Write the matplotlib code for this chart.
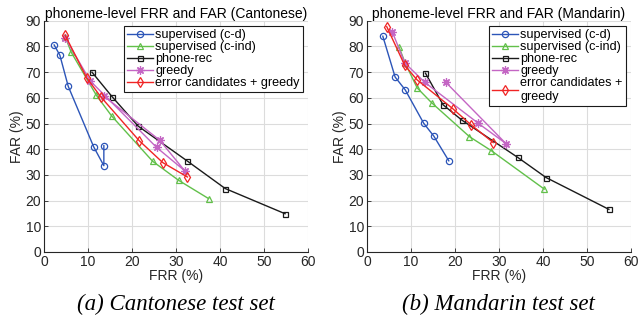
import matplotlib
matplotlib.use("Agg")
import matplotlib.pyplot as plt

# Cantonese test set (FRR %, FAR %)
can_cd_frr = [2.3, 3.6, 5.5, 11.3, 13.6, 13.6]
can_cd_far = [80.6, 76.6, 64.5, 40.9, 33.6, 41.4]
can_ci_frr = [4.8, 6.2, 11.9, 15.4, 24.7, 30.6, 37.4]
can_ci_far = [83.8, 77.7, 61.0, 52.9, 35.3, 27.9, 20.8]
can_rec_frr = [10.9, 15.5, 21.4, 32.5, 41.2, 54.8]
can_rec_far = [70.0, 60.4, 49.0, 35.5, 24.7, 14.9]
can_gr_frr = [4.8, 10.5, 25.6, 32.0, 26.3, 13.7]
can_gr_far = [83.4, 66.6, 40.7, 31.6, 43.5, 60.6]
can_ec_frr = [4.8, 9.7, 12.9, 21.6, 27.0, 32.6]
can_ec_far = [84.4, 67.8, 60.4, 43.4, 34.8, 29.2]

# Mandarin test set (FRR %, FAR %)
man_cd_frr = [3.6, 6.4, 8.7, 12.9, 15.2, 18.6]
man_cd_far = [84.0, 68.1, 63.1, 50.1, 45.1, 35.5]
man_ci_frr = [7.3, 8.7, 11.4, 14.7, 23.3, 28.3, 40.3]
man_ci_far = [79.7, 73.5, 63.9, 58.1, 44.9, 39.4, 24.5]
man_rec_frr = [13.3, 17.3, 21.6, 34.3, 40.7, 55.0]
man_rec_far = [69.6, 57.3, 51.3, 36.8, 29.0, 16.6]
man_gr_frr = [5.8, 8.6, 13.1, 25.3, 31.6, 17.9]
man_gr_far = [85.5, 73.6, 66.1, 50.1, 42.2, 66.1]
man_ec_frr = [4.5, 8.6, 11.4, 19.5, 23.6, 28.7]
man_ec_far = [87.7, 72.6, 67.0, 55.8, 49.6, 42.6]

titles = ["phoneme-level FRR and FAR (Cantonese)", "phoneme-level FRR and FAR (Mandarin)"]
captions = ["(a) Cantonese test set", "(b) Mandarin test set"]
labels_can = ["supervised (c-d)", "supervised (c-ind)", "phone-rec", "greedy",
              "error candidates + greedy"]
labels_man = ["supervised (c-d)", "supervised (c-ind)", "phone-rec", "greedy",
              "error candidates +\ngreedy"]

styles = [
    dict(color="#2c55b8", marker="o", ms=4.5),
    dict(color="#62c04a", marker="^", ms=5),
    dict(color="#1a1a1a", marker="s", ms=3.6),
    dict(color="#c466c4", marker=(8, 2, 0), ms=6),
    dict(color="#f02424", marker="d", ms=5.5),
]

plt.rcParams["font.family"] = ["Liberation Sans", "DejaVu Sans"]
axis_col = "#262626"

fig = plt.figure(figsize=(6.39, 3.22), dpi=100)
ax_left = fig.add_axes([0.0689, 0.2174, 0.413, 0.718])
ax_right = fig.add_axes([0.5743, 0.2174, 0.413, 0.718])

series = [
    [(can_cd_frr, can_cd_far), (can_ci_frr, can_ci_far), (can_rec_frr, can_rec_far),
     (can_gr_frr, can_gr_far), (can_ec_frr, can_ec_far)],
    [(man_cd_frr, man_cd_far), (man_ci_frr, man_ci_far), (man_rec_frr, man_rec_far),
     (man_gr_frr, man_gr_far), (man_ec_frr, man_ec_far)],
]

for ax, data, labels, title, cap in zip([ax_left, ax_right], series,
                                        [labels_can, labels_man], titles, captions):
    for (x, y), st, lab in zip(data, styles, labels):
        ax.plot(x, y, color=st["color"], marker=st["marker"], markersize=st["ms"],
                markerfacecolor="none", markeredgewidth=0.9, linewidth=1.0,
                label=lab)
    ax.set_xlim(0, 60)
    ax.set_ylim(0, 90)
    ax.set_xticks(range(0, 61, 10))
    ax.set_yticks(range(0, 91, 10))
    ax.grid(True, color="#dcdcdc", linewidth=0.8)
    ax.set_axisbelow(True)
    for side in ["top", "right"]:
        ax.spines[side].set_visible(False)
    for side in ["left", "bottom"]:
        ax.spines[side].set_color(axis_col)
        ax.spines[side].set_linewidth(0.8)
    ax.tick_params(direction="in", length=3, width=0.6, colors=axis_col,
                   labelsize=10, pad=2)
    ax.set_xlabel("FRR (%)", fontsize=10, color=axis_col, labelpad=0)
    ax.set_ylabel("FAR (%)", fontsize=10, color=axis_col, labelpad=1)
    ax.set_title(title, fontsize=10, color="black", pad=2)
    leg = ax.legend(loc="upper right", fontsize=9.1, handlelength=2.0,
                    handletextpad=0.2, borderpad=0.25, labelspacing=0.0,
                    fancybox=False, framealpha=1, borderaxespad=0.4)
    leg.get_frame().set_edgecolor("#1a1a1a")
    leg.get_frame().set_linewidth(0.8)
    ax.text(0.5, -0.225, cap, transform=ax.transAxes, ha="center", va="center",
            fontsize=16.5, fontstyle="italic", family="Liberation Serif")

fig.savefig("out.png", dpi=100)
